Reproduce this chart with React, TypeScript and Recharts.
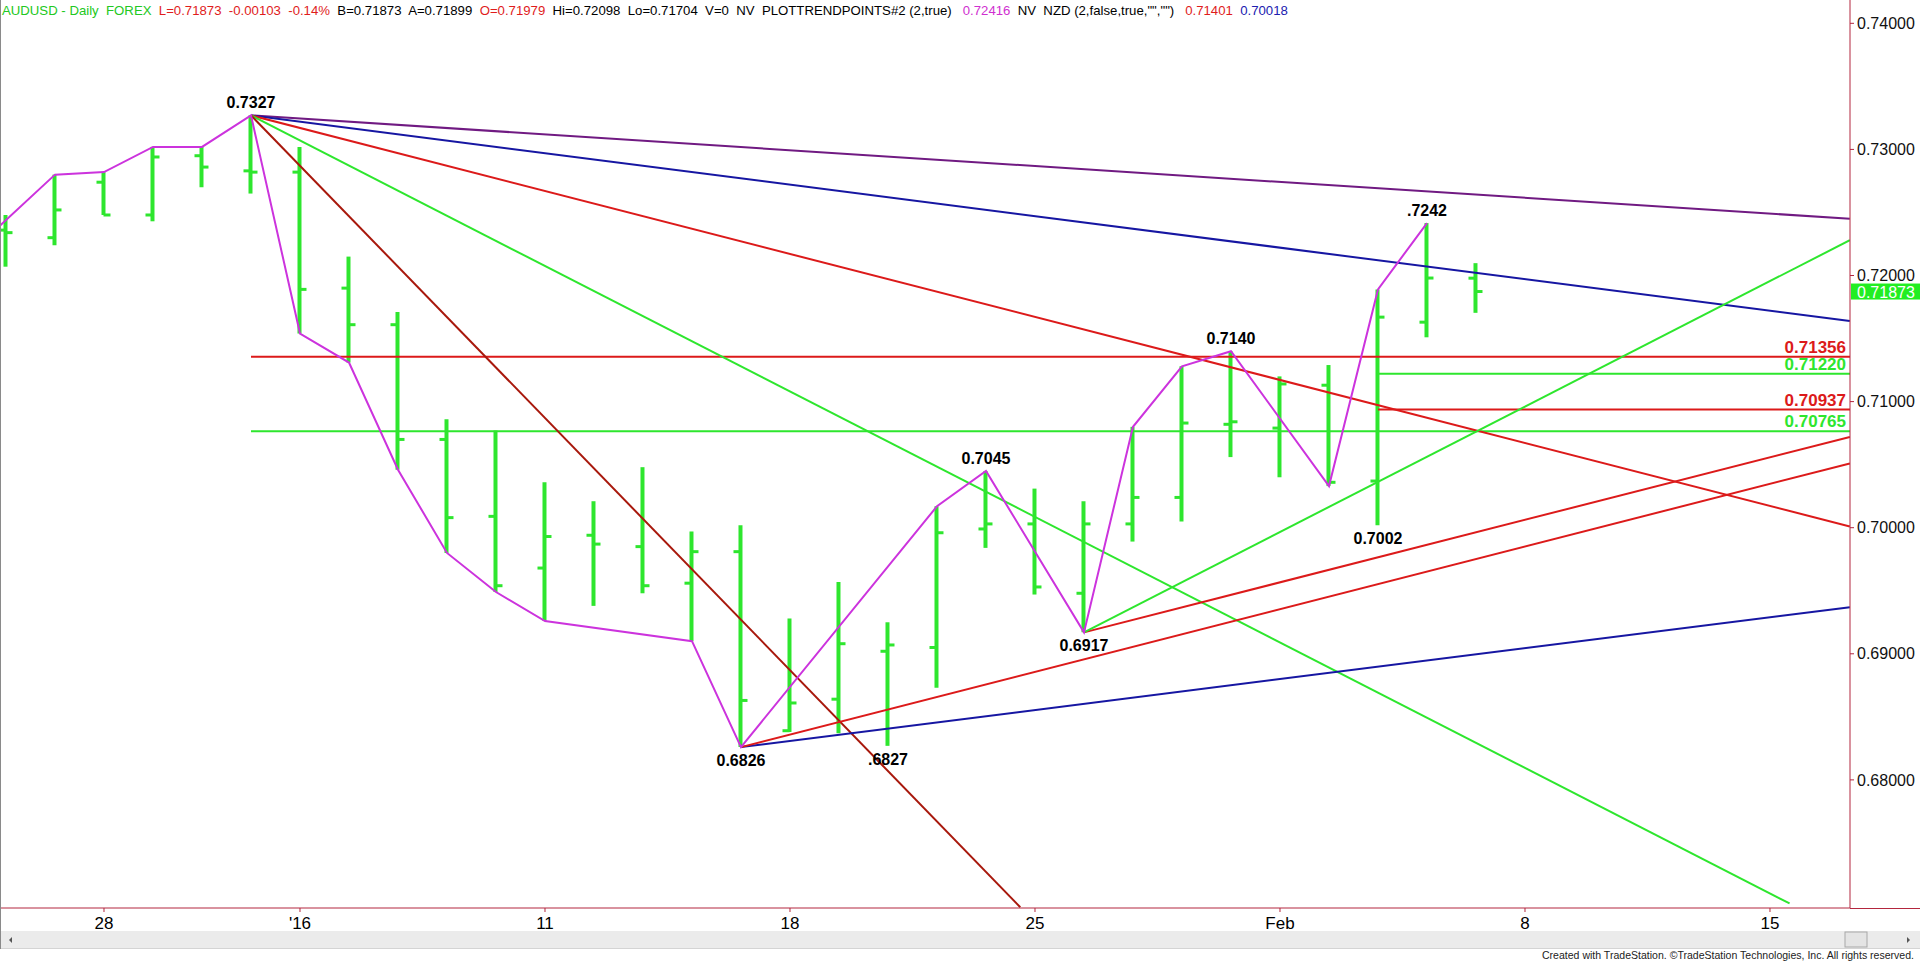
import React from 'react';
import { ComposedChart, Bar, Line, Scatter, XAxis, YAxis, ReferenceLine } from 'recharts';

// trading days shown (Dec 23 .. Feb 5), index = slot on the time axis
const days = ['Dec 23', 'Dec 24', 'Dec 28', 'Dec 29', 'Dec 30', 'Dec 31', 'Jan 4', 'Jan 5', 'Jan 6', 'Jan 7', 'Jan 8',
  'Jan 11', 'Jan 12', 'Jan 13', 'Jan 14', 'Jan 15', 'Jan 18', 'Jan 19', 'Jan 20', 'Jan 21', 'Jan 22',
  'Jan 25', 'Jan 26', 'Jan 27', 'Jan 28', 'Jan 29', 'Feb 1', 'Feb 2', 'Feb 3', 'Feb 4', 'Feb 5'];
const opens = [0.7236, 0.7230, 0.7274, 0.7248, 0.7295, 0.7283, 0.7282, 0.7190, 0.7161, 0.7070, 0.7009,
  0.6968, 0.6994, 0.6985, 0.6956, 0.6981, 0.6839, 0.6864, 0.6902, 0.6905, 0.6999,
  0.7003, 0.6948, 0.7003, 0.7024, 0.7082, 0.7079, 0.7113, 0.7037, 0.7163, 0.71979];
const highs = [0.7248, 0.7280, 0.7282, 0.7302, 0.7302, 0.7327, 0.7302, 0.7215, 0.7171, 0.7086, 0.7077,
  0.7036, 0.7021, 0.7048, 0.6997, 0.7002, 0.6928, 0.6957, 0.6925, 0.7017, 0.7045,
  0.7031, 0.7021, 0.7080, 0.7128, 0.7140, 0.7120, 0.7129, 0.7189, 0.72416, 0.72098];
const lows = [0.7207, 0.7224, 0.7248, 0.7243, 0.7270, 0.7265, 0.7154, 0.7131, 0.7046, 0.6980, 0.6949,
  0.6926, 0.6938, 0.6948, 0.6910, 0.6826, 0.6838, 0.6837, 0.6827, 0.6873, 0.6984,
  0.6947, 0.6917, 0.6989, 0.7005, 0.7056, 0.7040, 0.7033, 0.7002, 0.7151, 0.71704];
const closes = [0.7234, 0.7252, 0.7248, 0.7294, 0.7286, 0.7282, 0.7189, 0.7161, 0.7070, 0.7008, 0.6954,
  0.6993, 0.6987, 0.6954, 0.6981, 0.6863, 0.6861, 0.6908, 0.6907, 0.6996, 0.7003,
  0.6953, 0.7003, 0.7024, 0.7083, 0.7084, 0.7114, 0.7036, 0.7167, 0.7198, 0.71873];

// time axis ticks
const tickIdx = [2, 6, 11, 16, 21, 26, 31, 36];
const tickLabels = ['28', "'16", '11', '18', '25', 'Feb', '8', '15'];
const priceTicks = [0.68, 0.69, 0.70, 0.71, 0.72, 0.73, 0.74];

// PLOTTRENDPOINTS swing line
const swingIdx = [-1, 1, 2, 3, 4, 5, 6, 7, 8, 9, 10, 11, 14, 15, 19, 20, 22, 23, 24, 25, 27, 28, 29];
const swingPrice = [0.7208, 0.7280, 0.7282, 0.7302, 0.7302, 0.7327, 0.7154, 0.7131, 0.7046, 0.6980, 0.6949,
  0.6926, 0.6910, 0.6826, 0.7017, 0.7045, 0.6917, 0.7080, 0.7128, 0.7140, 0.7033, 0.7189, 0.72416];

// labelled pivots
const pivotIdx = [5, 15, 18, 20, 22, 25, 28, 29];
const pivotPrice = [0.7327, 0.6826, 0.6827, 0.7045, 0.6917, 0.7140, 0.7002, 0.72416];
const pivotText = ['0.7327', '0.6826', '.6827', '0.7045', '0.6917', '0.7140', '0.7002', '.7242'];
const pivotAbove = [true, false, false, true, false, true, false, true];

// angle lines: start (index, price) -> end (index, price)
const trendStartIdx = [5, 5, 5, 5, 5, 15, 15, 22, 22];
const trendStartPrice = [0.7327, 0.7327, 0.7327, 0.7327, 0.7327, 0.6826, 0.6826, 0.6917, 0.6917];
const trendEndIdx = [37.63, 37.63, 37.63, 36.4, 20.7, 37.63, 37.63, 37.63, 37.63];
const trendEndPrice = [0.7245, 0.7164, 0.7001, 0.6702, 0.6699, 0.6937, 0.7051, 0.7072, 0.7228];

// retracement levels
const levelPrice = [0.71356, 0.70765, 0.71220, 0.70937];
const levelFromIdx = [5, 5, 28, 28];
const levelText = ['0.71356', '0.70765', '0.71220', '0.70937'];

const lastPrice = 0.71873;

const X_MIN = -0.1224;
const X_MAX = 37.633;
const Y_MIN = 0.66984;
const Y_MAX = 0.74185;

const GREEN = '#2ee62e';
const RED = '#dc1a1a';
const DARK_RED = '#a8180c';
const BLUE = '#1616a2';
const PURPLE = '#701a82';
const MAGENTA = '#cc33dd';
const AXIS = '#b3263e';
const trendColors = [PURPLE, BLUE, RED, GREEN, DARK_RED, BLUE, RED, RED, GREEN];
const levelColors = [RED, GREEN, GREEN, RED];

const bars = days.map((d, i) => ({
  idx: i, day: d, o: opens[i], h: highs[i], l: lows[i], c: closes[i], range: [lows[i], highs[i]],
}));
const swing = swingIdx.map((x, i) => ({ idx: x, price: swingPrice[i] }));
const pivots = pivotIdx.map((x, i) => ({ idx: x, price: pivotPrice[i], text: pivotText[i], above: pivotAbove[i] }));

const OhlcBar = (props: any) => {
  const { x, y, width, height, payload } = props;
  if (height == null || !payload) return null;
  const cx = x + width / 2;
  const span = payload.h - payload.l;
  const yo = y + ((payload.h - payload.o) / span) * height;
  const yc = y + ((payload.h - payload.c) / span) * height;
  return (
    <g stroke={GREEN}>
      <line x1={cx} x2={cx} y1={y} y2={y + height} strokeWidth={4} />
      <line x1={cx - 7} x2={cx} y1={yo} y2={yo} strokeWidth={3} />
      <line x1={cx} x2={cx + 7} y1={yc} y2={yc} strokeWidth={3} />
    </g>
  );
};

const PivotLabel = (props: any) => {
  const { cx, cy, payload } = props;
  return (
    <text x={cx} y={payload.above ? cy - 7 : cy + 19} textAnchor="middle" fontSize={16} fontWeight="bold" fill="#000">
      {payload.text}
    </text>
  );
};

const LastTag = (props: any) => {
  const vb = props.viewBox;
  const left = vb.x + vb.width + 1;
  return (
    <g>
      <rect x={left} y={vb.y - 8} width={70} height={16} fill="#22ee22" />
      <text x={left + 6} y={vb.y + 6} fontSize={16} fill="#fff">{lastPrice.toFixed(5)}</text>
    </g>
  );
};

const App: React.FC = () => (
  <div style={{ position: 'absolute', left: 0, top: 0, width: 1920, height: 964, background: '#fff', fontFamily: 'Arial, "Liberation Sans", sans-serif', overflow: 'hidden' }}>
    <ComposedChart width={1920} height={964} data={bars} margin={{ top: 0, right: 0, bottom: 0, left: 0 }}>
      <XAxis type="number" dataKey="idx" domain={[X_MIN, X_MAX]} allowDataOverflow ticks={tickIdx}
        tickFormatter={(v: number) => tickLabels[tickIdx.indexOf(v)] ?? ''} interval={0} height={56}
        axisLine={{ stroke: AXIS }} tickLine={{ stroke: AXIS }} tickSize={4} tickMargin={5}
        tick={{ fill: '#000', fontSize: 17 }} />
      <YAxis orientation="right" type="number" domain={[Y_MIN, Y_MAX]} allowDataOverflow ticks={priceTicks}
        tickFormatter={(v: number) => v.toFixed(5)} interval={0} width={70}
        axisLine={{ stroke: AXIS }} tickLine={{ stroke: AXIS }} tickSize={4} tickMargin={3}
        tick={{ fill: '#111', fontSize: 16 }} />
      {levelPrice.map((p, i) => (
        <ReferenceLine key={'lv' + i} segment={[{ x: levelFromIdx[i], y: p }, { x: X_MAX, y: p }]}
          stroke={levelColors[i]} strokeWidth={2} ifOverflow="hidden"
          label={{ value: levelText[i], position: 'insideBottomRight', offset: 4, fill: levelColors[i], fontSize: 17, fontWeight: 'bold' }} />
      ))}
      {trendStartIdx.map((s, i) => (
        <ReferenceLine key={'tr' + i} segment={[{ x: s, y: trendStartPrice[i] }, { x: trendEndIdx[i], y: trendEndPrice[i] }]}
          stroke={trendColors[i]} strokeWidth={2} ifOverflow="hidden" />
      ))}
      <ReferenceLine y={lastPrice} stroke="none" label={(p: any) => <LastTag {...p} />} />
      <Bar dataKey="range" barSize={8} shape={OhlcBar} isAnimationActive={false} />
      <Line data={swing} dataKey="price" stroke={MAGENTA} strokeWidth={2} dot={false} type="linear" isAnimationActive={false} />
      <Scatter data={pivots} dataKey="price" shape={PivotLabel} isAnimationActive={false} />
    </ComposedChart>
    <svg width={1920} height={964} style={{ position: 'absolute', left: 0, top: 0, pointerEvents: 'none' }}>
      <line x1={0.5} x2={0.5} y1={0} y2={949} stroke="#8a8a8a" />
      <line x1={1850} x2={1920} y1={908.5} y2={908.5} stroke={AXIS} />
      <text x={2} y={15} fontSize={13.2} style={{ whiteSpace: 'pre' }}>
        <tspan fill="#22c822">AUDUSD - Daily  FOREX  </tspan>
        <tspan fill="#e01c1c">L=0.71873  -0.00103  -0.14%  </tspan>
        <tspan fill="#000">B=0.71873  A=0.71899  </tspan>
        <tspan fill="#e01c1c">O=0.71979  </tspan>
        <tspan fill="#000">Hi=0.72098  Lo=0.71704  V=0  NV  PLOTTRENDPOINTS#2 (2,true)   </tspan>
        <tspan fill="#d030d0">0.72416  </tspan>
        <tspan fill="#000">NV  NZD (2,false,true,"","")   </tspan>
        <tspan fill="#e01c1c">0.71401  </tspan>
        <tspan fill="#2020b0">0.70018</tspan>
      </text>
      <rect x={1} y={931} width={1919} height={17} fill="#ebebeb" />
      <line x1={1} x2={1920} y1={948.5} y2={948.5} stroke="#d4d4d4" />
      <polygon points="9,940 12,937 12,943" fill="#555" />
      <rect x={1845} y={932} width={22} height={15} fill="#e4e4e4" stroke="#a8a8a8" />
      <polygon points="1910,940 1907,937 1907,943" fill="#555" />
      <text x={1914} y={959} fontSize={10.5} textAnchor="end" fill="#222" textLength={372} lengthAdjust="spacingAndGlyphs">
        Created with TradeStation. ©TradeStation Technologies, Inc. All rights reserved.
      </text>
    </svg>
  </div>
);

export default App;
